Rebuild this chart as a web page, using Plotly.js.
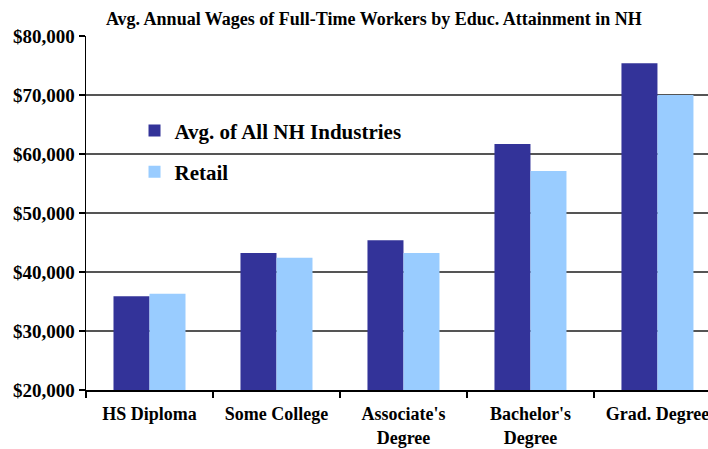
<!DOCTYPE html>
<html>
<head>
<meta charset="utf-8">
<script src="https://cdn.plot.ly/plotly-3.0.1.min.js"></script>
<style>html,body{margin:0;padding:0;background:#fff;}#chart{width:708px;height:449px;}</style>
</head>
<body>
<div id="chart"></div>
<script>
var categories = ["HS Diploma", "Some College", "Associate's<br>Degree", "Bachelor's<br>Degree", "Grad. Degree"];
var allIndustries = [35900, 43200, 45400, 61700, 75400];
var retail = [36300, 42400, 43200, 57100, 70000];
var seriesNames = ["Avg. of All NH Industries", "Retail"];
var yTicks = [20000, 30000, 40000, 50000, 60000, 70000, 80000];
var yTickText = ["$20,000", "$30,000", "$40,000", "$50,000", "$60,000", "$70,000", "$80,000"];

var serif = "Liberation Serif, Times New Roman, serif";

var traces = [
  {type: "bar", x: categories, y: allIndustries, name: seriesNames[0], legendgroup: "a",
   marker: {color: "#333399"}},
  {type: "bar", x: categories, y: retail, name: seriesNames[1], legendgroup: "b",
   marker: {color: "#99CCFF"}}
];

var layout = {
  width: 708, height: 449,
  margin: {l: 86, r: 0, t: 36, b: 59, pad: 0},
  paper_bgcolor: "#fff", plot_bgcolor: "#fff",
  title: {text: "Avg. Annual Wages of Full-Time Workers by Educ. Attainment in NH",
          font: {family: serif, size: 18, color: "#000", weight: "bold"},
          xref: "container", x: 0.528, xanchor: "center", yref: "container", y: 0.958, yanchor: "middle"},
  barmode: "group", bargap: 0.433, bargroupgap: 0,
  showlegend: true,
  legend: {x: 0.078, y: 0.79, xanchor: "left", yanchor: "top", bgcolor: "rgba(0,0,0,0)",
           font: {family: serif, size: 21, color: "#000", weight: "bold"},
           traceorder: "grouped", tracegroupgap: 11},
  xaxis: {type: "category", range: [-0.5, 4.398], showline: true, linecolor: "#000", linewidth: 1.5,
          ticks: "outside", tickson: "boundaries", ticklen: 6, tickcolor: "#000", tickwidth: 1.5,
          ticklabelstandoff: 7,
          tickfont: {family: serif, size: 18, color: "#000", weight: "bold"}, showgrid: false},
  yaxis: {range: [20000, 80000], tickmode: "array", tickvals: yTicks, ticktext: yTickText,
          showline: true, linecolor: "#000", linewidth: 1.5,
          ticks: "outside", ticklen: 6, tickcolor: "#000", tickwidth: 1.2,
          showgrid: true, gridcolor: "#555", gridwidth: 1.3, zeroline: false,
          tickfont: {family: serif, size: 19, color: "#000", weight: "bold"}}
};

Plotly.newPlot("chart", traces, layout, {staticPlot: true, displayModeBar: false});
</script>
</body>
</html>
